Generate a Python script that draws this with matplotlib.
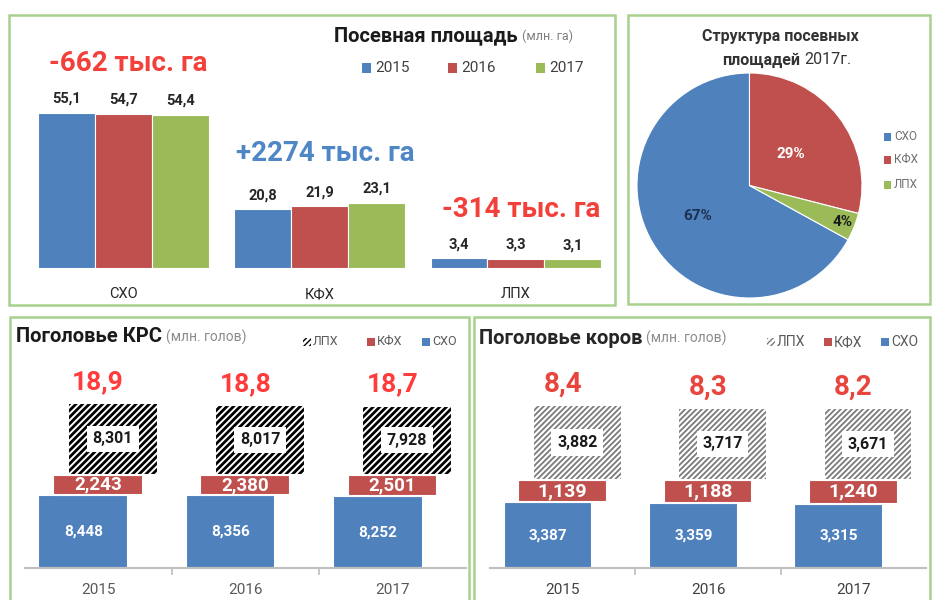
import numpy as np
import matplotlib
matplotlib.use('Agg')
import matplotlib.pyplot as plt
from matplotlib.patches import Rectangle

plt.rcParams['font.family'] = ['Roboto', 'DejaVu Sans']

# ============================================================
# Data
# ============================================================
area_cats = ['СХО', 'КФХ', 'ЛПХ']
area_years = ['2015', '2016', '2017']
area_2015 = [55.1, 20.8, 3.4]
area_2016 = [54.7, 21.9, 3.3]
area_2017 = [54.4, 23.1, 3.1]
area_changes = ['-662 тыс. га', '+2274 тыс. га', '-314 тыс. га']

pie_labels = ['СХО', 'КФХ', 'ЛПХ']
pie_share = [67, 29, 4]

years = ['2015', '2016', '2017']
stack_names = ['ЛПХ', 'КФХ', 'СХО']
krs_sho = [8.448, 8.356, 8.252]
krs_kfh = [2.243, 2.380, 2.501]
krs_lph = [8.301, 8.017, 7.928]
krs_total = [18.9, 18.8, 18.7]
cows_sho = [3.387, 3.359, 3.315]
cows_kfh = [1.139, 1.188, 1.240]
cows_lph = [3.882, 3.717, 3.671]
cows_total = [8.4, 8.3, 8.2]

# ============================================================
# Helpers (pixel layout of the 941x600 picture)
# ============================================================
W, H = 941, 600
BLUE, RED, GREEN = '#4f81bd', '#c0504d', '#9bbb59'
RED_TXT, BLUE_TXT = '#f2403a', '#4f86c6'
FRAME = '#a9d18e'

fig = plt.figure(figsize=(W / 100, H / 100), dpi=100)


def box(x0, y0, x1, y1):
    return [x0 / W, 1 - y1 / H, (x1 - x0) / W, (y1 - y0) / H]


def put(x, y, s, **kw):
    kw.setdefault('ha', 'center')
    kw.setdefault('va', 'center')
    return fig.text(x / W, 1 - y / H, s, **kw)


def after(artist, s, dx=4, **kw):
    # small unit note placed right after a title
    return fig.add_artist(plt.Annotation(s, xy=(1, 0.5), xycoords=artist, xytext=(dx, 0),
                                         textcoords='offset pixels', ha='left', va='center', **kw))


def square(x, y, size, **kw):
    fig.add_artist(Rectangle((x / W, 1 - (y + size / 2) / H), size / W, size / H,
                             transform=fig.transFigure, **kw))


def frame(x0, y0, x1, y1):
    fig.add_artist(Rectangle((x0 / W, 1 - y1 / H), (x1 - x0) / W, (y1 - y0) / H,
                             transform=fig.transFigure, fill=False, ec=FRAME, lw=1.8))


def comma(v, nd):
    return f"{v:.{nd}f}".replace('.', ',')


# ============================================================
# Panel 1 - sown area
# ============================================================
frame(9, 15, 615, 305)
ax1 = fig.add_axes(box(25.5, 30, 614, 268))
x = np.arange(len(area_cats))
w = 0.29
for j, (vals, col) in enumerate(zip([area_2015, area_2016, area_2017], [BLUE, RED, GREEN])):
    bars = ax1.bar(x + (j - 1) * w, vals, w, color=col, edgecolor='white', linewidth=0.8)
    ax1.bar_label(bars, labels=[comma(v, 1) for v in vals], padding=5,
                  fontsize=10.5, fontweight='bold', color='#262626')
tops = np.max([area_2015, area_2016, area_2017], axis=0)
for i, txt in enumerate(area_changes):
    ax1.annotate(txt, (x[i], tops[i]), xytext=(5, 49), textcoords='offset pixels',
                 ha='center', va='center', fontsize=20, fontweight='bold',
                 color=RED_TXT if txt.startswith('-') else BLUE_TXT)
ax1.set_xlim(-0.5, 2.5)
ax1.set_ylim(0, 84.4)
ax1.set_xticks(x, area_cats)
ax1.tick_params(axis='x', length=0, pad=14, labelsize=10.5, labelcolor='#262626')
ax1.set_yticks([])
for s in ax1.spines.values():
    s.set_visible(False)
ax1.patch.set_alpha(0)

t1 = put(334, 36, 'Посевная площадь', ha='left', fontsize=14.5, fontweight='bold',
         color='#1a1a1a')
after(t1, '(млн. га)', fontsize=9, color='#7f7f7f')
for yr, col, xs in zip(area_years, [BLUE, RED, GREEN], [362, 448, 536]):
    square(xs, 68, 9, color=col, lw=0)
    put(xs + 13, 68, yr, ha='left', fontsize=11, color='#404040')

# ============================================================
# Panel 2 - pie 2017
# ============================================================
frame(628, 15, 930, 304)
ax2 = fig.add_axes(box(637, 73, 862, 298))
wedges, _ = ax2.pie(pie_share, colors=[BLUE, RED, GREEN],
                    startangle=90 + 360 * pie_share[0] / sum(pie_share), counterclock=False,
                    wedgeprops=dict(edgecolor='white', linewidth=0.8))
for wdg, share, r, col in zip(wedges, pie_share, [0.54, 0.46, 0.89],
                              ['#1f2f4f', 'white', '#1a1a1a']):
    th = np.deg2rad((wdg.theta1 + wdg.theta2) / 2)
    ax2.text(r * np.cos(th), r * np.sin(th), f'{share}%', ha='center', va='center',
             fontsize=11, fontweight='bold', color=col)
ax2.set_xlim(-1, 1)
ax2.set_ylim(-1, 1)

put(780, 37, 'Структура посевных', fontsize=11.5, fontweight='bold', color='#333333')
put(800, 60, 'площадей', ha='right', fontsize=11.5, fontweight='bold', color='#333333')
put(804, 60, '2017г.', ha='left', fontsize=11.5, color='#333333')
for name, col, yy in zip(pie_labels, [BLUE, RED, GREEN], [137, 160, 185]):
    square(884, yy, 7, color=col, lw=0)
    put(894, yy, name, ha='left', fontsize=8.5, color='#6f6f6f')


# ============================================================
# Panels 3, 4 - livestock stacks
# ============================================================
def livestock(rect, sho, kfh, lph, totals, ymax, hatch, hatch_col, hatch_lw,
              total_col, total_fs, red_fs, year_col):
    ax = fig.add_axes(rect)
    xs = np.arange(len(years))
    bw = 0.61
    b1 = ax.bar(xs - 0.1, sho, bw, color=BLUE, ec='white', lw=1.5)
    b2 = ax.bar(xs, kfh, bw, bottom=sho, color=RED, ec='white', lw=1.5)
    base3 = np.add(sho, kfh)
    with plt.rc_context({'hatch.linewidth': hatch_lw}):
        b3 = ax.bar(xs + 0.1, lph, bw, bottom=base3, color='white', ec=hatch_col,
                    lw=0, hatch=hatch)
    ax.bar(xs + 0.1, lph, bw, bottom=base3, fill=False, ec='white', lw=1.5)
    ax.bar_label(b1, labels=[comma(v, 3) for v in sho], label_type='center',
                 color='white', fontsize=11, fontweight='bold')
    ax.bar_label(b2, labels=[comma(v, 3) for v in kfh], label_type='center',
                 color='white', fontsize=red_fs, fontweight='bold')
    ax.bar_label(b3, labels=[comma(v, 3) for v in lph], label_type='center',
                 color='#1a1a1a', fontsize=11.5, fontweight='bold',
                 bbox=dict(boxstyle='square,pad=0.35', fc='white', ec='none'))
    top = base3 + np.array(lph)
    for i, t in enumerate(totals):
        ax.annotate(comma(t, 1), (xs[i], top[i]), xytext=(0, 21), textcoords='offset pixels',
                    ha='center', va='center', fontsize=total_fs, fontweight='bold',
                    color=total_col)
    ax.set_xlim(-0.5, 2.5)
    ax.set_ylim(0, ymax)
    ax.set_xticks(xs, years)
    ax.set_xticks([0.5, 1.5], minor=True)
    ax.tick_params(axis='x', which='major', length=0, pad=11, labelsize=11,
                   labelcolor=year_col)
    ax.tick_params(axis='x', which='minor', length=5, width=1.2, color='#bfbfbf')
    ax.set_yticks([])
    for k, s in ax.spines.items():
        s.set_visible(k == 'bottom')
    ax.spines['bottom'].set_color('#bfbfbf')
    ax.spines['bottom'].set_linewidth(1.5)
    ax.patch.set_alpha(0)
    return ax


frame(10, 317, 469, 612)
livestock(box(24.5, 355, 466, 568), krs_sho, krs_kfh, krs_lph, krs_total, 24.5,
          '/////', 'black', 2.0, '#ff3b3b', 19, 13.5, '#595959')
t3 = put(16, 337, 'Поголовье КРС', ha='left', fontsize=14.5, fontweight='bold',
         color='#1a1a1a')
after(t3, '(млн. голов)', fontsize=10, color='#8c8c8c')

frame(474, 317, 930, 612)
livestock(box(490, 355, 926, 568), cows_sho, cows_kfh, cows_lph, cows_total, 10.98,
          '//////', '#7a7a7a', 1.3, '#e8453c', 20, 14, '#404040')
t4 = put(479, 338, 'Поголовье коров', ha='left', fontsize=14.5, fontweight='bold',
         color='#262626')
after(t4, '(млн. голов)', fontsize=10, color='#8c8c8c')

# legends of the stacks
for xs0, hcol, fs in [(303, 'black', 9), (767, '#7a7a7a', 10)]:
    lx = [xs0, xs0 + 64, xs0 + 119] if xs0 < 400 else [xs0, xs0 + 57, xs0 + 114]
    for name, lxi in zip(stack_names, lx):
        if name == 'ЛПХ':
            with plt.rc_context({'hatch.linewidth': 1.0}):
                square(lxi, 342, 8, fc='white', ec=hcol, lw=0, hatch='//////')
        else:
            square(lxi, 342, 8, color=RED if name == 'КФХ' else BLUE, lw=0)
        put(lxi + 10, 342, name, ha='left', fontsize=fs, color='#595959')

fig.savefig('out.png', dpi=100)
